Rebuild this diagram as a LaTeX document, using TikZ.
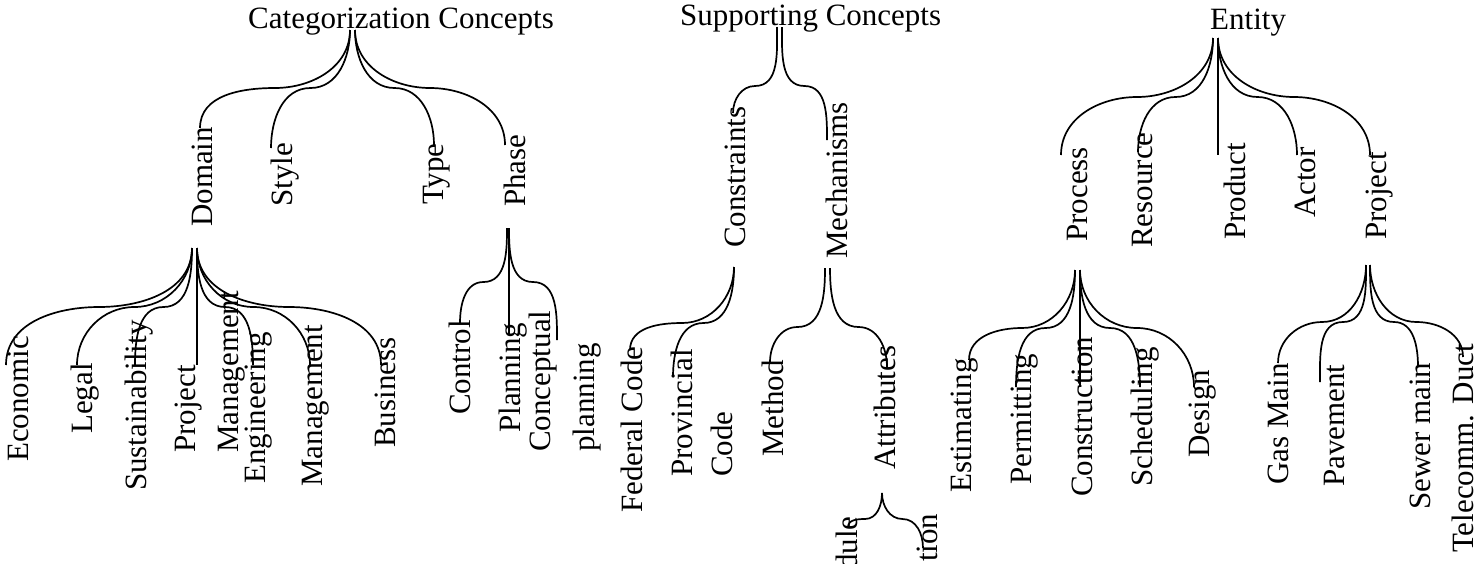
\documentclass[tikz,border=0pt]{standalone}
\usepackage{fontspec}
\setmainfont{Liberation Serif}
\usetikzlibrary{calc}
% brace-like connector: from a root point down to a child, bending through a
% horizontal point at height #3 (measured downwards from the top edge)
\newcommand\linkL[3]{\path ($(#1)!0.5!(#2)$) coordinate (lnkmid);
  \draw[link] (#1) to[out=-90,in=0] (lnkmid |- 0,-#3) to[out=180,in=90] (#2);}
\newcommand\linkR[3]{\path ($(#1)!0.5!(#2)$) coordinate (lnkmid);
  \draw[link] (#1) to[out=-90,in=180] (lnkmid |- 0,-#3) to[out=0,in=90] (#2);}
\begin{document}
\begin{tikzpicture}[x=1pt,y=1pt,
  title/.style={anchor=base west, inner sep=0pt, font=\fontsize{31}{36}\selectfont},
  leaf/.style={rotate=90, anchor=west, inner sep=0pt, align=left, font=\fontsize{31}{36}\selectfont},
  link/.style={line width=1.7pt, black}]
\useasboundingbox (0,0) rectangle (1479,-563);

% ---------------- Categorization Concepts ----------------
\node[title] (cat) at (248,-28) {Categorization Concepts};
\coordinate (cat-l) at (350,-30);
\coordinate (cat-r) at (355,-30);

\node[leaf] (domain) at (202,-227) {Domain};
\node[leaf] (style)  at (285,-207) {Style};
\node[leaf] (type)   at (437,-205) {Type};
\node[leaf] (phase)  at (515,-207) {Phase};
\coordinate (domain-in) at (200,-128);
\coordinate (style-in)  at (271,-148);
\coordinate (type-in)   at (434,-145);
\coordinate (phase-in)  at (505,-145);
\linkL{cat-l}{domain-in}{88}
\linkL{cat-l}{style-in}{88}
\linkR{cat-r}{type-in}{88}
\linkR{cat-r}{phase-in}{88}

% Domain
\coordinate (dom-l) at (192,-248);
\coordinate (dom-r) at (197,-248);
\node[leaf] (econ)  at (18,-462)  {Economic};
\node[leaf] (legal) at (85,-434)  {Legal};
\node[leaf] (sust)  at (139,-491) {Sustainability};
\node[leaf, font=\fontsize{31}{43}\selectfont] (pm) at (210,-453) {Project\\Management};
\node[leaf] (eng)   at (259,-484) {Engineering};
\node[leaf] (mgmt)  at (316,-487) {Management};
\node[leaf] (bus)   at (385,-448) {Business};
\coordinate (econ-in)  at (6,-365);
\coordinate (legal-in) at (77,-365);
\coordinate (sust-in)  at (135,-365);
\coordinate (pm-in)    at (197,-365);
\coordinate (eng-in)   at (253,-365);
\coordinate (mgmt-in)  at (310,-365);
\coordinate (bus-in)   at (381,-365);
\linkL{dom-l}{econ-in}{307}
\linkL{dom-l}{legal-in}{307}
\linkL{dom-l}{sust-in}{307}
\draw[link] (dom-r) -- (pm-in);
\linkR{dom-r}{eng-in}{307}
\linkR{dom-r}{mgmt-in}{307}
\linkR{dom-r}{bus-in}{307}

% Phase
\coordinate (ph-l) at (507,-228);
\coordinate (ph-r) at (509,-228);
\node[leaf] (control)  at (460,-415) {Control};
\node[leaf] (planning) at (513,-433) {Planning};
\node[leaf, font=\fontsize{31}{44}\selectfont] (concpl) at (565,-452) {Conceptual\\planning};
\coordinate (control-in)  at (460,-323);
\coordinate (planning-in) at (509,-335);
\coordinate (concpl-in)   at (557,-340);
\linkL{ph-l}{control-in}{282}
\draw[link] (ph-r) -- (planning-in);
\linkR{ph-r}{concpl-in}{282}

% ---------------- Supporting Concepts ----------------
\node[title] (sup) at (680,-25) {Supporting Concepts};
\coordinate (sup-l) at (777,-27);
\coordinate (sup-r) at (782,-27);
\node[leaf] (constr) at (735,-248) {Constraints};
\node[leaf] (mech)   at (837,-259) {Mechanisms};
\coordinate (constr-in) at (733,-113);
\coordinate (mech-in)   at (827,-140);
\linkL{sup-l}{constr-in}{86}
\linkR{sup-r}{mech-in}{86}

% Constraints
\coordinate (con-r) at (734,-267);
\node[leaf] (fed) at (632,-513) {Federal Code};
\node[leaf, font=\fontsize{31}{40}\selectfont] (prov) at (702,-477) {Provincial\\Code};
\coordinate (fed-in)  at (630,-350);
\coordinate (prov-in) at (673,-377);
\linkL{con-r}{fed-in}{323}
\linkL{con-r}{prov-in}{323}

% Mechanisms
\coordinate (mec-l) at (825,-268);
\coordinate (mec-r) at (830,-268);
\node[leaf] (method) at (773,-457) {Method};
\node[leaf] (attr)   at (885,-470) {Attributes};
\coordinate (method-in) at (770,-362);
\coordinate (attr-in)   at (887,-367);
\linkL{mec-l}{method-in}{327}
\linkR{mec-r}{attr-in}{327}

% Attributes (its two leaves run past the lower edge)
\coordinate (atr-r) at (882,-493);
\node[leaf] (sched) at (847,-570) {dule};
\node[leaf] (loc)   at (927,-562) {tion};
\coordinate (sched-in) at (848,-527);
\coordinate (loc-in)   at (923,-548);
\linkL{atr-r}{sched-in}{519}
\linkR{atr-r}{loc-in}{519}

% ---------------- Entity ----------------
\node[title] (ent) at (1210,-29) {Entity};
\coordinate (ent-l) at (1213,-38);
\coordinate (ent-r) at (1218,-38);
\node[leaf] (process)  at (1077,-242) {Process};
\node[leaf] (resource) at (1142,-248) {Resource};
\node[leaf] (product)  at (1235,-240) {Product};
\node[leaf] (actor)    at (1305,-218) {Actor};
\node[leaf] (project)  at (1380,-240) {Project};
\coordinate (process-in)  at (1061,-155);
\coordinate (resource-in) at (1138,-152);
\coordinate (product-in)  at (1218,-155);
\coordinate (actor-in)    at (1297,-155);
\coordinate (project-in)  at (1370,-155);
\linkL{ent-l}{process-in}{97}
\linkL{ent-l}{resource-in}{97}
\draw[link] (ent-r) -- (product-in);
\linkR{ent-r}{actor-in}{97}
\linkR{ent-r}{project-in}{97}

% Process
\coordinate (pr-l) at (1075,-270);
\coordinate (pr-r) at (1080,-270);
\node[leaf] (est)    at (965,-493)  {Estimating};
\node[leaf] (perm)   at (1025,-485) {Permitting};
\node[leaf] (constn) at (1082,-497) {Construction};
\node[leaf] (sch)    at (1145,-487) {Scheduling};
\node[leaf] (design) at (1203,-458) {Design};
\coordinate (est-in)    at (969,-360);
\coordinate (perm-in)   at (1016,-387);
\coordinate (constn-in) at (1080,-387);
\coordinate (sch-in)    at (1140,-387);
\coordinate (design-in) at (1194,-387);
\linkL{pr-l}{est-in}{328}
\linkL{pr-l}{perm-in}{328}
\draw[link] (pr-r) -- (constn-in);
\linkR{pr-r}{sch-in}{328}
\linkR{pr-r}{design-in}{328}

% Project
\coordinate (pj-l) at (1366,-265);
\coordinate (pj-r) at (1370,-265);
\node[leaf] (gas)   at (1278,-485) {Gas Main};
\node[leaf] (pave)  at (1334,-487) {Pavement};
\node[leaf] (sewer) at (1420,-510) {Sewer main};
\node[leaf] (tele)  at (1463,-553) {Telecomm. Duct};
\coordinate (gas-in)   at (1278,-363);
\coordinate (pave-in)  at (1320,-382);
\coordinate (sewer-in) at (1418,-367);
\coordinate (tele-in)  at (1463,-357);
\linkL{pj-l}{gas-in}{322}
\linkL{pj-l}{pave-in}{322}
\linkR{pj-r}{sewer-in}{322}
\linkR{pj-r}{tele-in}{322}
\end{tikzpicture}
\end{document}
